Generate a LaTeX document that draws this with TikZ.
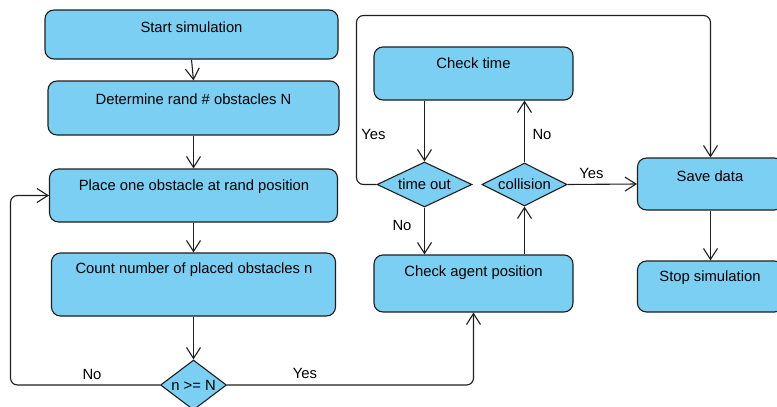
\documentclass[tikz,border=0pt]{standalone}
\usepackage{fontspec}
\setmainfont{Liberation Sans}
\usetikzlibrary{arrows.meta,shapes.geometric,calc}
\definecolor{boxfill}{RGB}{122,207,243}
\definecolor{edge}{RGB}{30,30,30}
\tikzset{
  box/.style={draw=edge,fill=boxfill,rounded corners=9pt,line width=1.1pt,inner sep=0pt},
  dia/.style={draw=edge,fill=boxfill,diamond,shape aspect=2,line width=1.1pt,inner sep=0pt,font=\fontsize{14.8}{16}\selectfont},
  txt/.style={font=\fontsize{14.8}{16}\selectfont,inner sep=0pt},
  lbl/.style={font=\fontsize{14.8}{16}\selectfont,inner sep=0pt},
  arr/.style={draw=edge,line width=1.1pt,rounded corners=7pt,-{Straight Barb[length=11pt,width=14pt,line width=1.1pt]}},
}
\begin{document}
\begin{tikzpicture}[x=1pt,y=-1pt]
\useasboundingbox (0,0) rectangle (777,407);
% left column
\node[box,minimum width=293pt,minimum height=49pt] (start) at (191.5,34.5) {};
\node[txt] (tstart) at (191.5,27.5) {Start simulation};
\node[box,minimum width=291pt,minimum height=54pt] (det) at (193.5,108) {};
\node[txt] (tdet) at (193.5,99) {Determine rand \# obstacles N};
\node[box,minimum width=288pt,minimum height=53pt] (place) at (193.5,195.5) {};
\node[txt] (tplace) at (194,187) {Place one obstacle at rand position};
\node[box,minimum width=284pt,minimum height=63pt] (count) at (193.5,284.5) {};
\node[txt] (tcount) at (194,270) {Count number of placed obstacles n};
\node[dia,minimum width=66pt,minimum height=50pt] (nd) at (193.5,385) {n >= N};
% middle
\node[box,minimum width=199pt,minimum height=53pt] (ct) at (473.5,73.5) {};
\node[txt] (tct) at (473.5,63) {Check time};
\node[box,minimum width=199pt,minimum height=57pt] (ca) at (473.5,283.5) {};
\node[txt] (tca) at (473.5,273) {Check agent position};
\node[dia,minimum width=95pt,minimum height=45pt] (to) at (424.5,184.5) {time out};
\node[dia,minimum width=85pt,minimum height=43pt] (col) at (524.5,184.5) {collision};
% right
\node[box,minimum width=146pt,minimum height=52pt] (save) at (710.5,184) {};
\node[txt] (tsave) at (710,176) {Save data};
\node[box,minimum width=146pt,minimum height=51pt] (stop) at (710.5,286.5) {};
\node[txt] (tstop) at (710,278) {Stop simulation};
% helper coordinates
\coordinate (lcorner) at (10.5,385);
\coordinate (tcorner) at (356.5,184.5);
\coordinate (topline) at (356.5,15.5);
% connectors
\draw[arr] (start.south) -- (det.north);
\draw[arr] (det.south) -- (place.north);
\draw[arr] (place.south) -- (count.north);
\draw[arr] (count.south) -- (nd.north);
\draw[arr] (nd.west) -- (lcorner) |- (place.west);
\draw[arr] (nd.east) -| (ca.south);
\draw[arr] (ct.south -| to.north) -- (to.north);
\draw[arr] (col.north) -- (ct.south -| col.north);
\draw[arr] (to.south) -- (ca.north -| to.south);
\draw[arr] (ca.north -| col.south) -- (col.south);
\draw[arr] (col.east) -- (save.west);
\draw[arr] (to.west) -- (tcorner) -- (topline) -| (save.north);
\draw[arr] (save.south) -- (stop.north);
% labels
\node[lbl] (l1) at (92,374) {No};
\node[lbl] (l2) at (305,373) {Yes};
\node[lbl] (l3) at (373.5,134) {Yes};
\node[lbl] (l4) at (542,134) {No};
\node[lbl] (l5) at (591.5,173) {Yes};
\node[lbl] (l6) at (402,225) {No};
\end{tikzpicture}
\end{document}
